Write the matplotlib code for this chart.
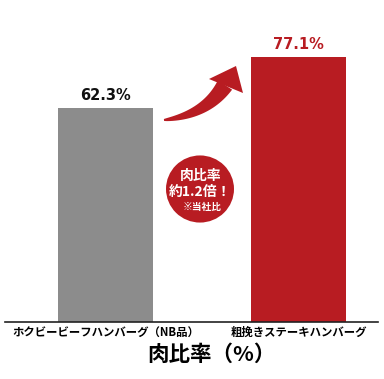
import numpy as np
import matplotlib.pyplot as plt
from matplotlib.patches import Circle, Polygon

plt.rcParams['font.family'] = ['Noto Sans CJK JP', 'DejaVu Sans']

categories = ["ホクビービーフハンバーグ（NB品）", "粗挽きステーキハンバーグ"]
values = [62.3, 77.1]
colors = ["#8c8c8c", "#b81c22"]
label_colors = ["#111111", "#b81c22"]

W, H = 384, 379
fig = plt.figure(figsize=(W / 100, H / 100), dpi=100)

# axes in pixel terms: x 5..378, baseline y=322
ax = fig.add_axes([5 / W, (H - 322) / H, 373 / W, (322 - 13) / H])
x = np.arange(len(categories))
ax.bar(x, values, width=0.49, color=colors)
ax.set_xlim(-0.52, 1.41)
ax.set_ylim(0, 90)
for s in ["top", "right", "left"]:
    ax.spines[s].set_visible(False)
ax.spines["bottom"].set_color("#222222")
ax.spines["bottom"].set_linewidth(1.2)
ax.set_yticks([])
ax.set_xticks(x)
ax.set_xticklabels(categories, fontsize=8.2, fontweight="bold")
ax.tick_params(axis="x", length=0, pad=3)
ax.get_xticklabels()[0].set_x(-0.02)

for xi, v, c in zip(x, values, label_colors):
    ax.text(xi, v + 1.6, f"{v}%", ha="center", va="bottom", fontsize=10.5,
            fontweight="bold", color=c, family="DejaVu Sans")

fig.text(211 / W, 1 - 354 / H, "肉比率（%）", ha="center", va="center",
         fontsize=15.5, fontweight="bold")

# curved arrow, drawn in pixel coords
def px(pts):
    return [(p[0] / W, 1 - p[1] / H) for p in pts]

t = np.linspace(0, 1, 30)
p0, p1, p2 = np.array([164, 120]), np.array([206, 115]), np.array([225, 85])
cen = ((1 - t) ** 2)[:, None] * p0 + (2 * (1 - t) * t)[:, None] * p1 + (t ** 2)[:, None] * p2
d = np.gradient(cen, axis=0)
nrm = np.stack([-d[:, 1], d[:, 0]], axis=1)
nrm /= np.linalg.norm(nrm, axis=1)[:, None]
w = 1 + 7.5 * t ** 0.8
upper = cen + nrm * w[:, None]
lower = cen - nrm * w[:, None]
body = list(upper) + list(lower[::-1])
fig.patches.append(Polygon(px(body), closed=True, transform=fig.transFigure,
                           facecolor="#b81c22", edgecolor="none"))
head = [(209, 79), (236, 66), (243, 93)]
fig.patches.append(Polygon(px(head), closed=True, transform=fig.transFigure,
                           facecolor="#b81c22", edgecolor="none"))

# badge
fig.patches.append(Circle((200 / W, 1 - 189 / H), 34 / W, transform=fig.transFigure,
                          facecolor="#b81c22", edgecolor="none"))
fig.text(201 / W, 1 - 176 / H, "肉比率", ha="center", va="center", color="white",
         fontsize=10, fontweight="bold")
fig.text(200 / W, 1 - 192 / H, "約1.2倍！", ha="center", va="center", color="white",
         fontsize=10, fontweight="bold")
fig.text(202 / W, 1 - 207 / H, "※当社比", ha="center", va="center", color="white",
         fontsize=7, fontweight="bold")

fig.savefig("out.png", dpi=100)
